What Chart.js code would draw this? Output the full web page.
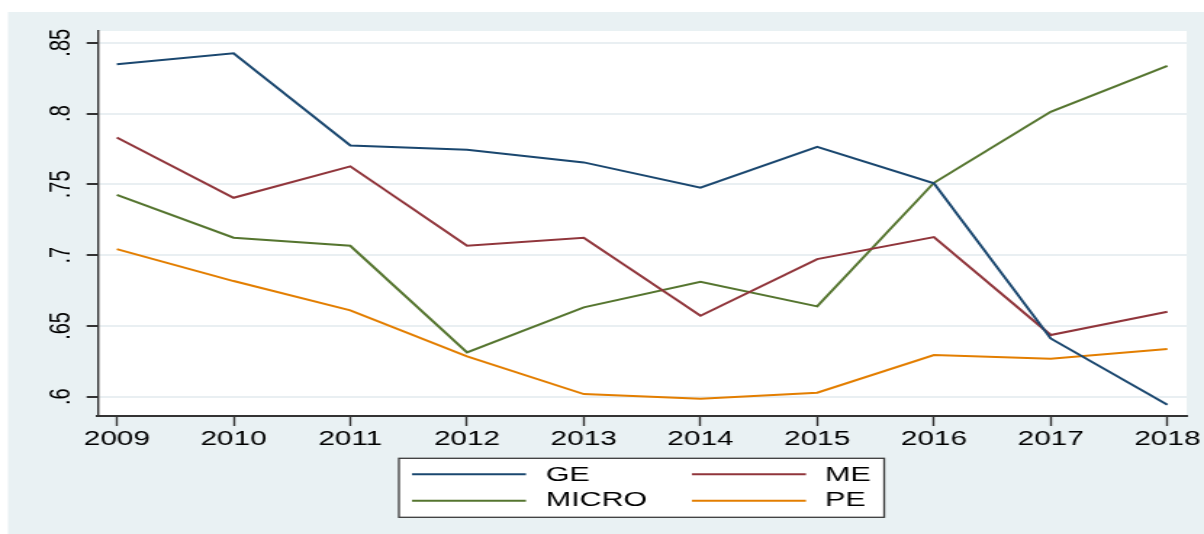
<!DOCTYPE html>
<html>
<head>
<meta charset="utf-8">
<script src="https://cdn.jsdelivr.net/npm/chart.js@4.4.1/dist/chart.umd.min.js"></script>
<style>
html,body{margin:0;padding:0;background:#fff;overflow:hidden}
canvas{display:block}
</style>
</head>
<body>
<canvas id="c" width="830" height="534" style="width:1204px;height:534px"></canvas>
<script>
// ---- data ----
const years = [2009, 2010, 2011, 2012, 2013, 2014, 2015, 2016, 2017, 2018];
const seriesNames = ['GE', 'ME', 'MICRO', 'PE'];
const geValues    = [0.8348, 0.8426, 0.7775, 0.7744, 0.7655, 0.7476, 0.7765, 0.7507, 0.6412, 0.5944];
const meValues    = [0.7831, 0.7405, 0.7627, 0.7066, 0.7123, 0.6572, 0.6972, 0.7128, 0.6436, 0.6600];
const microValues = [0.7426, 0.7123, 0.7066, 0.6313, 0.6631, 0.6812, 0.6638, 0.7511, 0.8012, 0.8337];
const peValues    = [0.7043, 0.6817, 0.6610, 0.6285, 0.6019, 0.5986, 0.6028, 0.6294, 0.6268, 0.6337];
const yTickValues = [0.6, 0.65, 0.7, 0.75, 0.8, 0.85];
const yTickLabels = ['.6', '.65', '.7', '.75', '.8', '.85'];

// ---- styles ----
const FONT = "'Liberation Sans', Arial, Helvetica, sans-serif";
const colors = ['#1a476f', '#90353b', '#55752f', '#e37e00'];
const allValues = [geValues, meValues, microValues, peValues];

function toPoints(vals) { return years.map((y, i) => ({ x: y, y: vals[i] })); }

const bgPlugin = {
  id: 'bgPlugin',
  beforeDraw(chart) {
    const ctx = chart.ctx, a = chart.chartArea;
    ctx.save();
    ctx.fillStyle = '#ffffff';
    ctx.fillRect(0, 0, chart.width, chart.height);
    ctx.fillStyle = '#e9f1f3';
    ctx.fillRect(5.5, 12, chart.width - 5.5, chart.height - 12);
    ctx.fillStyle = '#ffffff';
    ctx.fillRect(a.left, a.top, a.right - a.left, a.bottom - a.top);
    ctx.restore();
  }
};

const boxLegend = {
  id: 'boxLegend',
  afterDraw(chart) {
    const ctx = chart.ctx;
    const ds = chart.data.datasets;
    ctx.save();
    const bx = 275, by = 458.3, bw = 334.5, bh = 59;
    ctx.fillStyle = '#ffffff';
    ctx.fillRect(bx, by, bw, bh);
    ctx.strokeStyle = '#3a3a3a';
    ctx.lineWidth = 1.3;
    ctx.strokeRect(bx, by, bw, bh);
    const cols = [{ l0: 284, l1: 362.6, t: 376.2 }, { l0: 477, l1: 555.6, t: 568.7 }];
    const rows = [{ ly: 474.3, ty: 475.5 }, { ly: 500.7, ty: 500.5 }];
    ctx.font = '21px ' + FONT;
    ctx.textBaseline = 'middle';
    ctx.textAlign = 'left';
    ds.forEach((d, i) => {
      const c = cols[i % 2], r = rows[Math.floor(i / 2)];
      ctx.strokeStyle = d.borderColor;
      ctx.lineWidth = 2;
      ctx.beginPath();
      ctx.moveTo(c.l0, r.ly);
      ctx.lineTo(c.l1, r.ly);
      ctx.stroke();
      ctx.fillStyle = '#000';
      ctx.fillText(d.label, c.t, r.ty);
    });
    ctx.restore();
  }
};

new Chart(document.getElementById('c'), {
  type: 'line',
  data: {
    datasets: seriesNames.map((n, i) => ({
      label: n,
      data: toPoints(allValues[i]),
      borderColor: colors[i],
      backgroundColor: colors[i],
      borderWidth: 2,
      pointRadius: 0,
      tension: 0,
      fill: false
    }))
  },
  options: {
    responsive: false,
    animation: false,
    events: [],
    devicePixelRatio: 1,
    layout: { padding: { top: 31, right: 11.9, left: 0, bottom: 0 } },
    plugins: { legend: { display: false }, tooltip: { enabled: false }, title: { display: false } },
    scales: {
      x: {
        type: 'linear',
        min: 2008.836,
        max: 2018.166,
        afterBuildTicks: s => { s.ticks = years.map(v => ({ value: v })); },
        afterFit: s => { s.height = 118; },
        ticks: {
          color: '#000',
          font: { family: FONT, size: 20.5 },
          padding: 1.5,
          maxRotation: 0,
          minRotation: 0,
          autoSkip: false,
          callback: v => String(v)
        },
        grid: { drawOnChartArea: false, drawTicks: true, tickColor: '#333', tickWidth: 1.4, tickLength: 10 },
        border: { display: true, color: '#333', width: 2 }
      },
      y: {
        type: 'linear',
        min: 0.5864,
        max: 0.8583,
        afterBuildTicks: s => { s.ticks = yTickValues.map(v => ({ value: v })); },
        afterFit: s => { s.width = 67.35; },
        ticks: {
          color: '#000',
          font: { family: FONT, size: 20 },
          minRotation: 90,
          maxRotation: 90,
          crossAlign: 'center',
          padding: 3.2,
          callback: v => {
            const i = yTickValues.findIndex(t => Math.abs(t - v) < 1e-9);
            return i >= 0 ? yTickLabels[i] : '';
          }
        },
        grid: { color: '#e9eff2', lineWidth: 2, drawTicks: true, tickColor: '#333', tickWidth: 2, tickLength: 7.6 },
        border: { display: true, color: '#333', width: 1.4 }
      }
    }
  },
  plugins: [bgPlugin, boxLegend]
});
</script>
</body>
</html>
